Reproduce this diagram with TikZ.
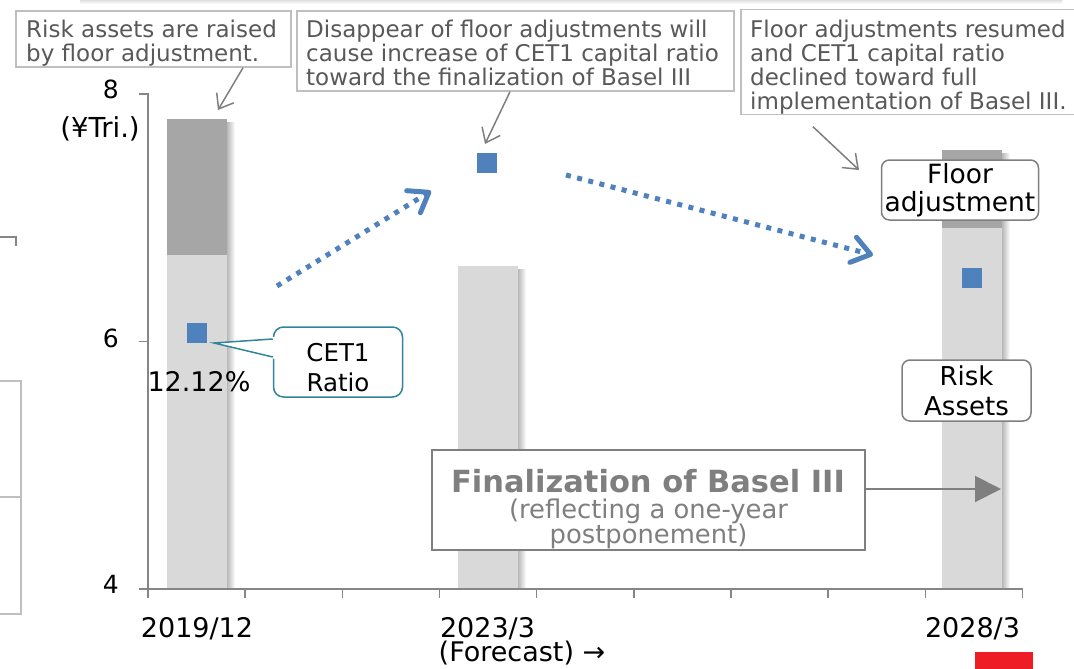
\documentclass[tikz,border=0pt]{standalone}
\usepackage{fontspec}
\setmainfont{DejaVu Sans}
\usetikzlibrary{arrows.meta}

\definecolor{notegray}{HTML}{BFBFBF}
\definecolor{notetext}{HTML}{595959}
\definecolor{ptrgray}{HTML}{7F7F7F}
\definecolor{axisgray}{HTML}{868686}
\definecolor{barlight}{HTML}{D9D9D9}
\definecolor{bardark}{HTML}{A6A6A6}
\definecolor{cetblue}{HTML}{4F81BD}
\definecolor{cetteal}{HTML}{31849B}
\definecolor{markred}{HTML}{EE1C25}

\newcommand\setfs[2]{\fontsize{#1pt}{#2pt}\selectfont}

\begin{document}
\begin{tikzpicture}[x=1pt,y=-1pt,
  notebox/.style={draw=notegray, line width=1.5pt, fill=white, inner sep=0pt},
  notetext/.style={anchor=north west, inner sep=0pt, text=notetext, align=left, font=\setfs{23}{24.2}},
  ptr/.style={draw=ptrgray, line width=1.5pt, -{Straight Barb[length=13pt,width=20pt]}},
  bluearrow/.style={draw=cetblue, line width=5pt, dash pattern=on 5pt off 6.5pt,
    -{Straight Barb[length=18pt,width=26pt,round]}},
  roundbox/.style={draw=ptrgray, line width=1.5pt, fill=white, rounded corners=8pt,
    align=center, inner sep=0pt},
  axisline/.style={draw=axisgray, line width=1.5pt},
  point/.style={fill=cetblue, minimum size=20pt, inner sep=0pt},
  barshadow/.style={left color=black!28, right color=white},
  ylabel/.style={anchor=base east, inner sep=0pt, font=\setfs{25}{25}},
  xlabel/.style={anchor=base, inner sep=0pt, font=\setfs{27}{27}}
]
\useasboundingbox (0,0) rectangle (1074,669);

% faint shadow along the top edge
\fill[top color=black!12, bottom color=white] (80,0) rectangle (1062,4);

% partial frames at the left edge
\draw[axisline] (0,237) -- (16,237) -- (16,246);
\draw[draw=notegray, line width=2pt] (-5,381) rectangle (21,614);
\draw[draw=notegray, line width=2pt] (0,497) -- (21,497);

% bars: risk assets (light) and floor adjustment (dark)
\fill[barshadow] (227,122) rectangle (235,589);
\fill[barlight] (167,255) rectangle (227,589);
\fill[bardark] (167,119) rectangle (227,255);

\fill[barshadow] (518,269) rectangle (526,589);
\fill[barlight] (458,266) rectangle (518,589);

\fill[barshadow] (1002,153) rectangle (1010,589);
\fill[barlight] (942,228) rectangle (1002,589);
\fill[bardark] (942,150) rectangle (1002,228);

% axes
\draw[axisline] (139,94) -- (148,94) -- (148,598);
\draw[axisline] (139,341.5) -- (148,341.5);
\draw[axisline] (139,589) -- (1022.5,589);
\foreach \i in {1,...,9}
  \draw[axisline] ({148+\i*97.17},589) -- ++(0,9);

\node[ylabel] (y8) at (119,99) {8};
\node[ylabel] (y6) at (119,347) {6};
\node[ylabel] (y4) at (119,593) {4};
\node[anchor=base, inner sep=0pt, font=\setfs{27.5}{27.5}] (unit) at (100,137) {(¥Tri.)};

\node[xlabel] (x1) at (197,637) {2019/12};
\node[xlabel] (x2) at (487.5,637) {2023/3};
\node[xlabel] (x3) at (972.5,637) {2028/3};
\node[xlabel] (fc) at (522,661.5) {(Forecast) →};

% CET1 ratio points
\node[point] (p1) at (197,333) {};
\node[point] (p2) at (487,163) {};
\node[point] (p3) at (972,278) {};
\node[anchor=base, inner sep=0pt, font=\setfs{27}{27}] (pct) at (199,391) {12.12\%};

% trend arrows
\coordinate (b1s) at (277,286);
\coordinate (b1e) at (431,191);
\coordinate (b2s) at (566,175);
\coordinate (b2e) at (873,255);
\draw[bluearrow] (b1s) -- (b1e);
\draw[bluearrow] (b2s) -- (b2e);

% explanatory notes
\node[notebox, minimum width=275pt, minimum height=56pt] (n1box) at (153.5,39) {};
\node[notetext] (n1text) at (26,19.5) {Risk assets are raised\\by floor adjustment.};
\node[notebox, minimum width=437pt, minimum height=80pt] (n2box) at (515.5,51) {};
\node[notetext] (n2text) at (306,19.5) {Disappear of floor adjustments will\\cause increase of CET1 capital ratio\\toward the finalization of Basel III};
\node[notebox, minimum width=339pt, minimum height=105pt] (n3box) at (910.5,62) {};
\node[notetext] (n3text) at (750,19.5) {Floor adjustments resumed\\and CET1 capital ratio\\declined toward full\\implementation of Basel III.};

\coordinate (t1) at (218,110);
\coordinate (t2) at (485,144);
\coordinate (t3) at (859,170);
\draw[ptr] ([xshift=89.5pt]n1box.south) -- (t1);
\draw[ptr] ([xshift=-5.5pt]n2box.south) -- (t2);
\draw[ptr] ([xshift=-97.5pt,yshift=-11.5pt]n3box.south) -- (t3);

% CET1 callout
\node[draw=cetteal, line width=1.5pt, fill=white, rounded corners=10pt,
  minimum width=129pt, minimum height=70pt, inner sep=0pt] (cetbox) at (338,362) {};
\coordinate (cettip) at (214,343);
\fill[white] (cettip) -- ([yshift=25pt,xshift=2pt]cetbox.west) -- ([yshift=3pt,xshift=2pt]cetbox.west) -- cycle;
\draw[draw=cetteal, line width=1.5pt] ([yshift=23pt]cetbox.west) -- (cettip) -- ([yshift=5pt]cetbox.west);
\node[anchor=north, inner sep=0pt, align=center, font=\setfs{24.5}{30}] (cettext) at (338,343.5) {CET1\\Ratio};

% labels on the last bar
\node[roundbox, minimum width=157pt, minimum height=60pt, font=\setfs{26.5}{28}] (floorbox) at (960,190) {Floor\\adjustment};
\node[roundbox, minimum width=129pt, minimum height=61pt, font=\setfs{26}{30}] (riskbox) at (966.5,390.5) {Risk\\Assets};

% Basel III finalization
\node[draw=ptrgray, line width=1.5pt, fill=white, minimum width=433pt, minimum height=100pt, inner sep=0pt] (finbox) at (648.5,500) {};
\node[anchor=base, inner sep=0pt, text=ptrgray, font=\bfseries\setfs{30.5}{30.5}] (fintitle) at (648,492) {Finalization of Basel III};
\node[anchor=north, inner sep=0pt, align=center, text=ptrgray, font=\setfs{25.8}{25.5}] (finsub) at (648.5,498.5) {(reflecting a one-year\\postponement)};
\coordinate (finend) at (1001,489);
\draw[draw=ptrgray, line width=2pt, -{Triangle[length=26pt,width=26pt]}] (finbox.east |- finend) -- (finend);

% corner mark
\fill[markred] (975,652) rectangle (1033,669);
\end{tikzpicture}
\end{document}
